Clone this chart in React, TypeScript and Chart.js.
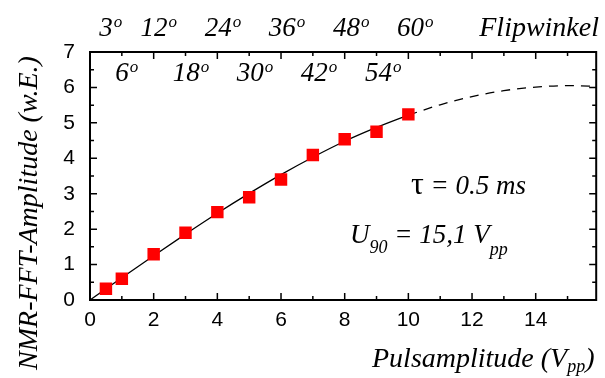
import { useEffect, useRef } from "react";
import { Chart, registerables } from "chart.js";

Chart.register(...registerables);

// Measured NMR signal (FFT amplitude) versus RF pulse amplitude
const pulseAmplitudes = [0.5, 1, 2, 3, 4, 5, 6, 7, 8, 9, 10];
const fftAmplitudes = [0.32, 0.6, 1.29, 1.9, 2.48, 2.9, 3.4, 4.09, 4.54, 4.75, 5.24];

// Fitted sine curve: solid over the measured range, dashed beyond it
const fitSolidX = [0, 1, 2, 3, 4, 5, 6, 7, 8, 9, 10];
const fitSolidY = [0, 0.63, 1.25, 1.86, 2.45, 3.01, 3.54, 4.03, 4.48, 4.87, 5.22];
const fitDashedX = [10, 11, 12, 13, 14, 15, 16];
const fitDashedY = [5.22, 5.51, 5.74, 5.91, 6.01, 6.05, 6.03];

// Flip angle labels along the top (degrees), two staggered rows
const flipAnglesUpper = [3, 12, 24, 36, 48, 60];
const flipAnglesLower = [6, 18, 30, 42, 54];

// Pulse amplitude for a 90 degree flip (Vpp)
const U90 = 15.1;

const X_MAX = 15.9;
const Y_MAX = 7;

const SERIF = '"Liberation Serif", "Times New Roman", serif';
const SANS = '"Liberation Sans", Arial, sans-serif';

type Run = { text: string; font: string; dy?: number };

function drawRuns(ctx: CanvasRenderingContext2D, runs: Run[], x: number, y: number) {
  let cx = x;
  for (const r of runs) {
    ctx.font = r.font;
    ctx.fillText(r.text, cx, y + (r.dy || 0));
    cx += ctx.measureText(r.text).width;
  }
  return cx;
}

const framePlugin = {
  id: "frameAndLabels",
  afterDraw(chart: any) {
    const { ctx, chartArea: a, scales } = chart;
    const xs = scales.x;
    const ys = scales.y;
    ctx.save();
    ctx.strokeStyle = "#000";
    ctx.fillStyle = "#000";

    // inward ticks on all four sides
    ctx.lineWidth = 1.5;
    ctx.beginPath();
    for (let v = 0; v <= Math.floor(X_MAX); v++) {
      const px = xs.getPixelForValue(v);
      const len = v % 2 === 0 ? 7 : 4;
      ctx.moveTo(px, a.bottom);
      ctx.lineTo(px, a.bottom - len);
      ctx.moveTo(px, a.top);
      ctx.lineTo(px, a.top + len);
    }
    for (let i = 0; i <= Y_MAX * 2; i++) {
      const v = i / 2;
      const py = ys.getPixelForValue(v);
      const len = i % 2 === 0 ? 7 : 4;
      ctx.moveTo(a.left, py);
      ctx.lineTo(a.left + len, py);
      ctx.moveTo(a.right, py);
      ctx.lineTo(a.right - len, py);
    }
    ctx.stroke();

    // frame
    ctx.lineWidth = 2;
    ctx.strokeRect(a.left, a.top, a.right - a.left, a.bottom - a.top);

    // flip angle labels
    ctx.textAlign = "left";
    ctx.textBaseline = "alphabetic";
    const numFont = `italic 27px ${SERIF}`;
    const degFont = `italic 17px ${SERIF}`;
    const drawAngle = (deg: number, baseline: number) => {
      const px = xs.getPixelForValue((U90 * deg) / 90);
      ctx.font = numFont;
      const w = ctx.measureText(String(deg)).width;
      ctx.fillText(String(deg), px - w / 2, baseline);
      ctx.font = degFont;
      ctx.fillText("o", px + w / 2 + 1, baseline - 9);
    };
    flipAnglesUpper.forEach((d) => drawAngle(d, 36));
    flipAnglesLower.forEach((d) => drawAngle(d, 81));
    ctx.font = `italic 28px ${SERIF}`;
    ctx.textAlign = "right";
    ctx.fillText("Flipwinkel", 599, 36);
    ctx.textAlign = "left";

    // x axis title
    drawRuns(
      ctx,
      [
        { text: "Pulsamplitude (V", font: `italic 28px ${SERIF}` },
        { text: "pp", font: `italic 18px ${SERIF}`, dy: 5 },
        { text: ")", font: `italic 28px ${SERIF}` },
      ],
      372,
      367
    );

    // y axis title
    ctx.save();
    ctx.translate(37, 213);
    ctx.rotate(-Math.PI / 2);
    ctx.textAlign = "center";
    ctx.font = `italic 28px ${SERIF}`;
    ctx.fillText("NMR-FFT-Amplitude (w.E.)", 0, 0);
    ctx.restore();

    // fit parameters
    drawRuns(
      ctx,
      [
        { text: "τ", font: `32px ${SERIF}` },
        { text: " = 0.5 ms", font: `italic 27px ${SERIF}` },
      ],
      411,
      194
    );
    drawRuns(
      ctx,
      [
        { text: "U", font: `italic 27px ${SERIF}` },
        { text: "90", font: `italic 18px ${SERIF}`, dy: 10 },
        { text: " = 15,1 V", font: `italic 27px ${SERIF}` },
        { text: "pp", font: `italic 18px ${SERIF}`, dy: 12 },
      ],
      350,
      243
    );

    ctx.restore();
  },
};

export default function App() {
  const canvasRef = useRef<HTMLCanvasElement | null>(null);

  useEffect(() => {
    const canvas = canvasRef.current;
    if (!canvas) return;
    const chart = new Chart(canvas, {
      type: "scatter",
      data: {
        datasets: [
          {
            label: "Messwerte",
            data: pulseAmplitudes.map((x, i) => ({ x, y: fftAmplitudes[i] })),
            pointStyle: "rect",
            pointRadius: 8.8,
            pointHoverRadius: 8.8,
            backgroundColor: "rgb(255,0,0)",
            borderColor: "rgb(255,40,40)",
            borderWidth: 0,
            showLine: false,
          },
          {
            label: "Fit",
            data: fitSolidX.map((x, i) => ({ x, y: fitSolidY[i] })),
            showLine: true,
            pointRadius: 0,
            borderColor: "#000",
            borderWidth: 1.3,
            cubicInterpolationMode: "monotone",
          },
          {
            label: "Fit (extrapoliert)",
            data: fitDashedX.map((x, i) => ({ x, y: fitDashedY[i] })),
            showLine: true,
            pointRadius: 0,
            borderColor: "#000",
            borderWidth: 1.3,
            borderDash: [9, 7],
            cubicInterpolationMode: "monotone",
          },
        ],
      },
      options: {
        responsive: false,
        animation: false,
        devicePixelRatio: 1,
        layout: { padding: { top: 52, right: 1, left: 0, bottom: 0 } },
        plugins: {
          legend: { display: false },
          tooltip: { enabled: false },
        },
        scales: {
          x: {
            type: "linear",
            min: 0,
            max: X_MAX,
            grid: { display: false, drawTicks: false },
            border: { display: false },
            ticks: {
              stepSize: 2,
              includeBounds: false,
              color: "#000",
              padding: 8,
              font: { family: SANS, size: 21 },
            },
            afterFit: (s: any) => {
              s.height = 78;
            },
          },
          y: {
            type: "linear",
            min: 0,
            max: Y_MAX,
            grid: { display: false, drawTicks: false },
            border: { display: false },
            ticks: {
              stepSize: 1,
              color: "#000",
              padding: 15,
              font: { family: SANS, size: 21 },
            },
            afterFit: (s: any) => {
              s.width = 90;
            },
          },
        },
      },
      plugins: [framePlugin],
    });
    return () => chart.destroy();
  }, []);

  return (
    <div style={{ position: "fixed", left: 0, top: 0, width: 605, height: 378, background: "#fff" }}>
      <canvas ref={canvasRef} width={605} height={378} style={{ display: "block" }} />
    </div>
  );
}
